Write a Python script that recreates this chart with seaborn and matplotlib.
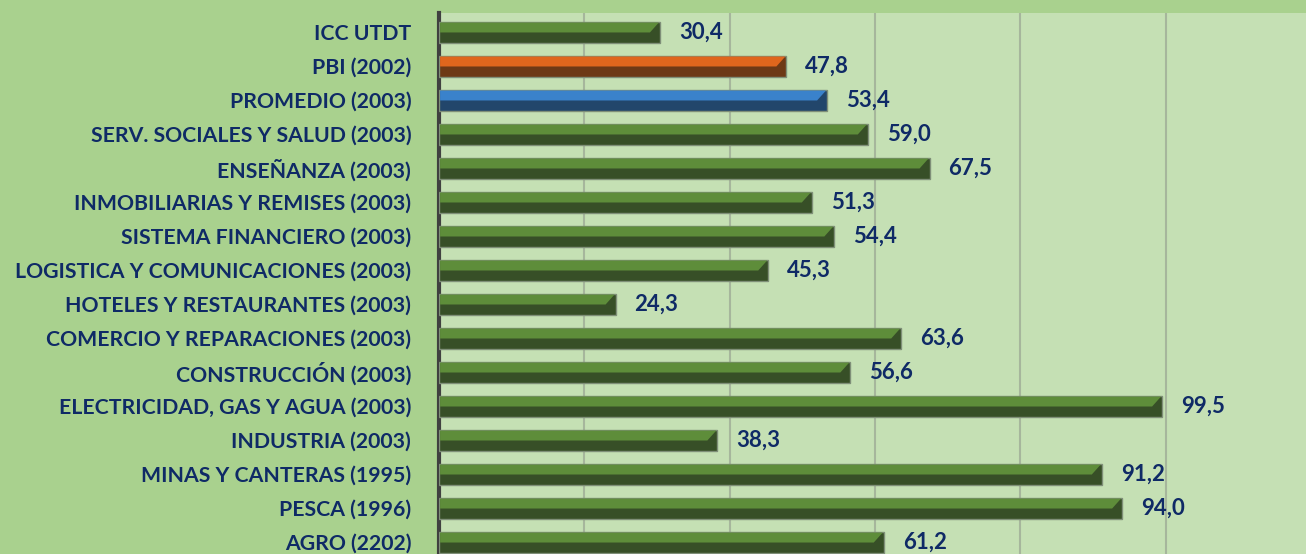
import matplotlib
matplotlib.use("Agg")
import matplotlib.pyplot as plt
import seaborn as sns
import pandas as pd
from matplotlib.patches import Polygon

categories = [
    "ICC UTDT", "PBI (2002)", "PROMEDIO (2003)", "SERV. SOCIALES Y SALUD (2003)",
    "ENSEÑANZA (2003)", "INMOBILIARIAS Y REMISES (2003)", "SISTEMA FINANCIERO (2003)",
    "LOGISTICA Y COMUNICACIONES (2003)", "HOTELES Y RESTAURANTES (2003)",
    "COMERCIO Y REPARACIONES (2003)", "CONSTRUCCIÓN (2003)",
    "ELECTRICIDAD, GAS Y AGUA (2003)", "INDUSTRIA (2003)",
    "MINAS Y CANTERAS (1995)", "PESCA (1996)", "AGRO (2202)",
]
values = [30.4, 47.8, 53.4, 59.0, 67.5, 51.3, 54.4, 45.3, 24.3, 63.6, 56.6, 99.5, 38.3, 91.2, 94.0, 61.2]
groups = ["base", "pbi", "prom"] + ["base"] * 13

dark = {"base": "#374f27", "pbi": "#6d3916", "prom": "#22466b"}
light = {"base": "#5e8d3a", "pbi": "#df661d", "prom": "#3a82cb"}

df = pd.DataFrame({"cat": categories, "val": values, "grp": groups})

sns.set_theme(style="white")
plt.rcParams["font.family"] = ["Lato", "DejaVu Sans"]

fig = plt.figure(figsize=(13.06, 5.54), dpi=100)
fig.patch.set_facecolor("#a9d18e")
ax = fig.add_axes([439 / 1306, 0.0, 1 - 439 / 1306, 1 - 13 / 554])
ax.set_facecolor("#c5e0b4")

sns.barplot(data=df, y="cat", x="val", hue="grp", palette=dark, dodge=False,
            width=0.62, orient="h", legend=False, ax=ax, zorder=3,
            saturation=1, edgecolor="#7f8f78", linewidth=1.0)

inv = {v: k for k, v in dark.items()}
bevel = 119.3 / (1306 - 439) * 10  # bevel width (data units)
for p in list(ax.patches):
    if p.get_width() <= 0:
        continue
    key = inv.get(matplotlib.colors.to_hex(p.get_facecolor()), "base")
    lc = light[key]
    x0, y0 = p.get_x(), p.get_y()
    w, h = p.get_width(), p.get_height()
    top_h = h * 0.52
    poly = Polygon([(x0 + 0.15, y0 + 0.03), (x0 + w - 0.15, y0 + 0.03),
                    (x0 + w - bevel, y0 + top_h), (x0 + 0.15, y0 + top_h)],
                   closed=True, facecolor=lc, edgecolor="none", zorder=4)
    ax.add_patch(poly)

for i, v in enumerate(values):
    ax.text(v + 2.6, i, f"{v:.1f}".replace(".", ","), va="center", ha="left",
            fontsize=16, fontweight="bold", color="#0f2a66", zorder=5)

ax.set_xlim(0, 119.3)
ax.set_ylim(15.35, -0.56)
ax.set_xticks([20, 40, 60, 80, 100])
ax.set_xticklabels([])
ax.xaxis.grid(True, color="#a6b69c", linewidth=1.5, zorder=0)
ax.set_axisbelow(True)
ax.tick_params(axis="x", length=0)
ax.tick_params(axis="y", length=0, pad=20)
for lab in ax.get_yticklabels():
    lab.set_fontsize(15.3)
    lab.set_fontweight("bold")
    lab.set_color("#0f2a66")
ax.set_xlabel("")
ax.set_ylabel("")
for s in ["top", "right", "bottom"]:
    ax.spines[s].set_visible(False)
ax.spines["left"].set_color("#404040")
ax.spines["left"].set_linewidth(3)

fig.savefig("out.png", dpi=100, facecolor=fig.get_facecolor())
